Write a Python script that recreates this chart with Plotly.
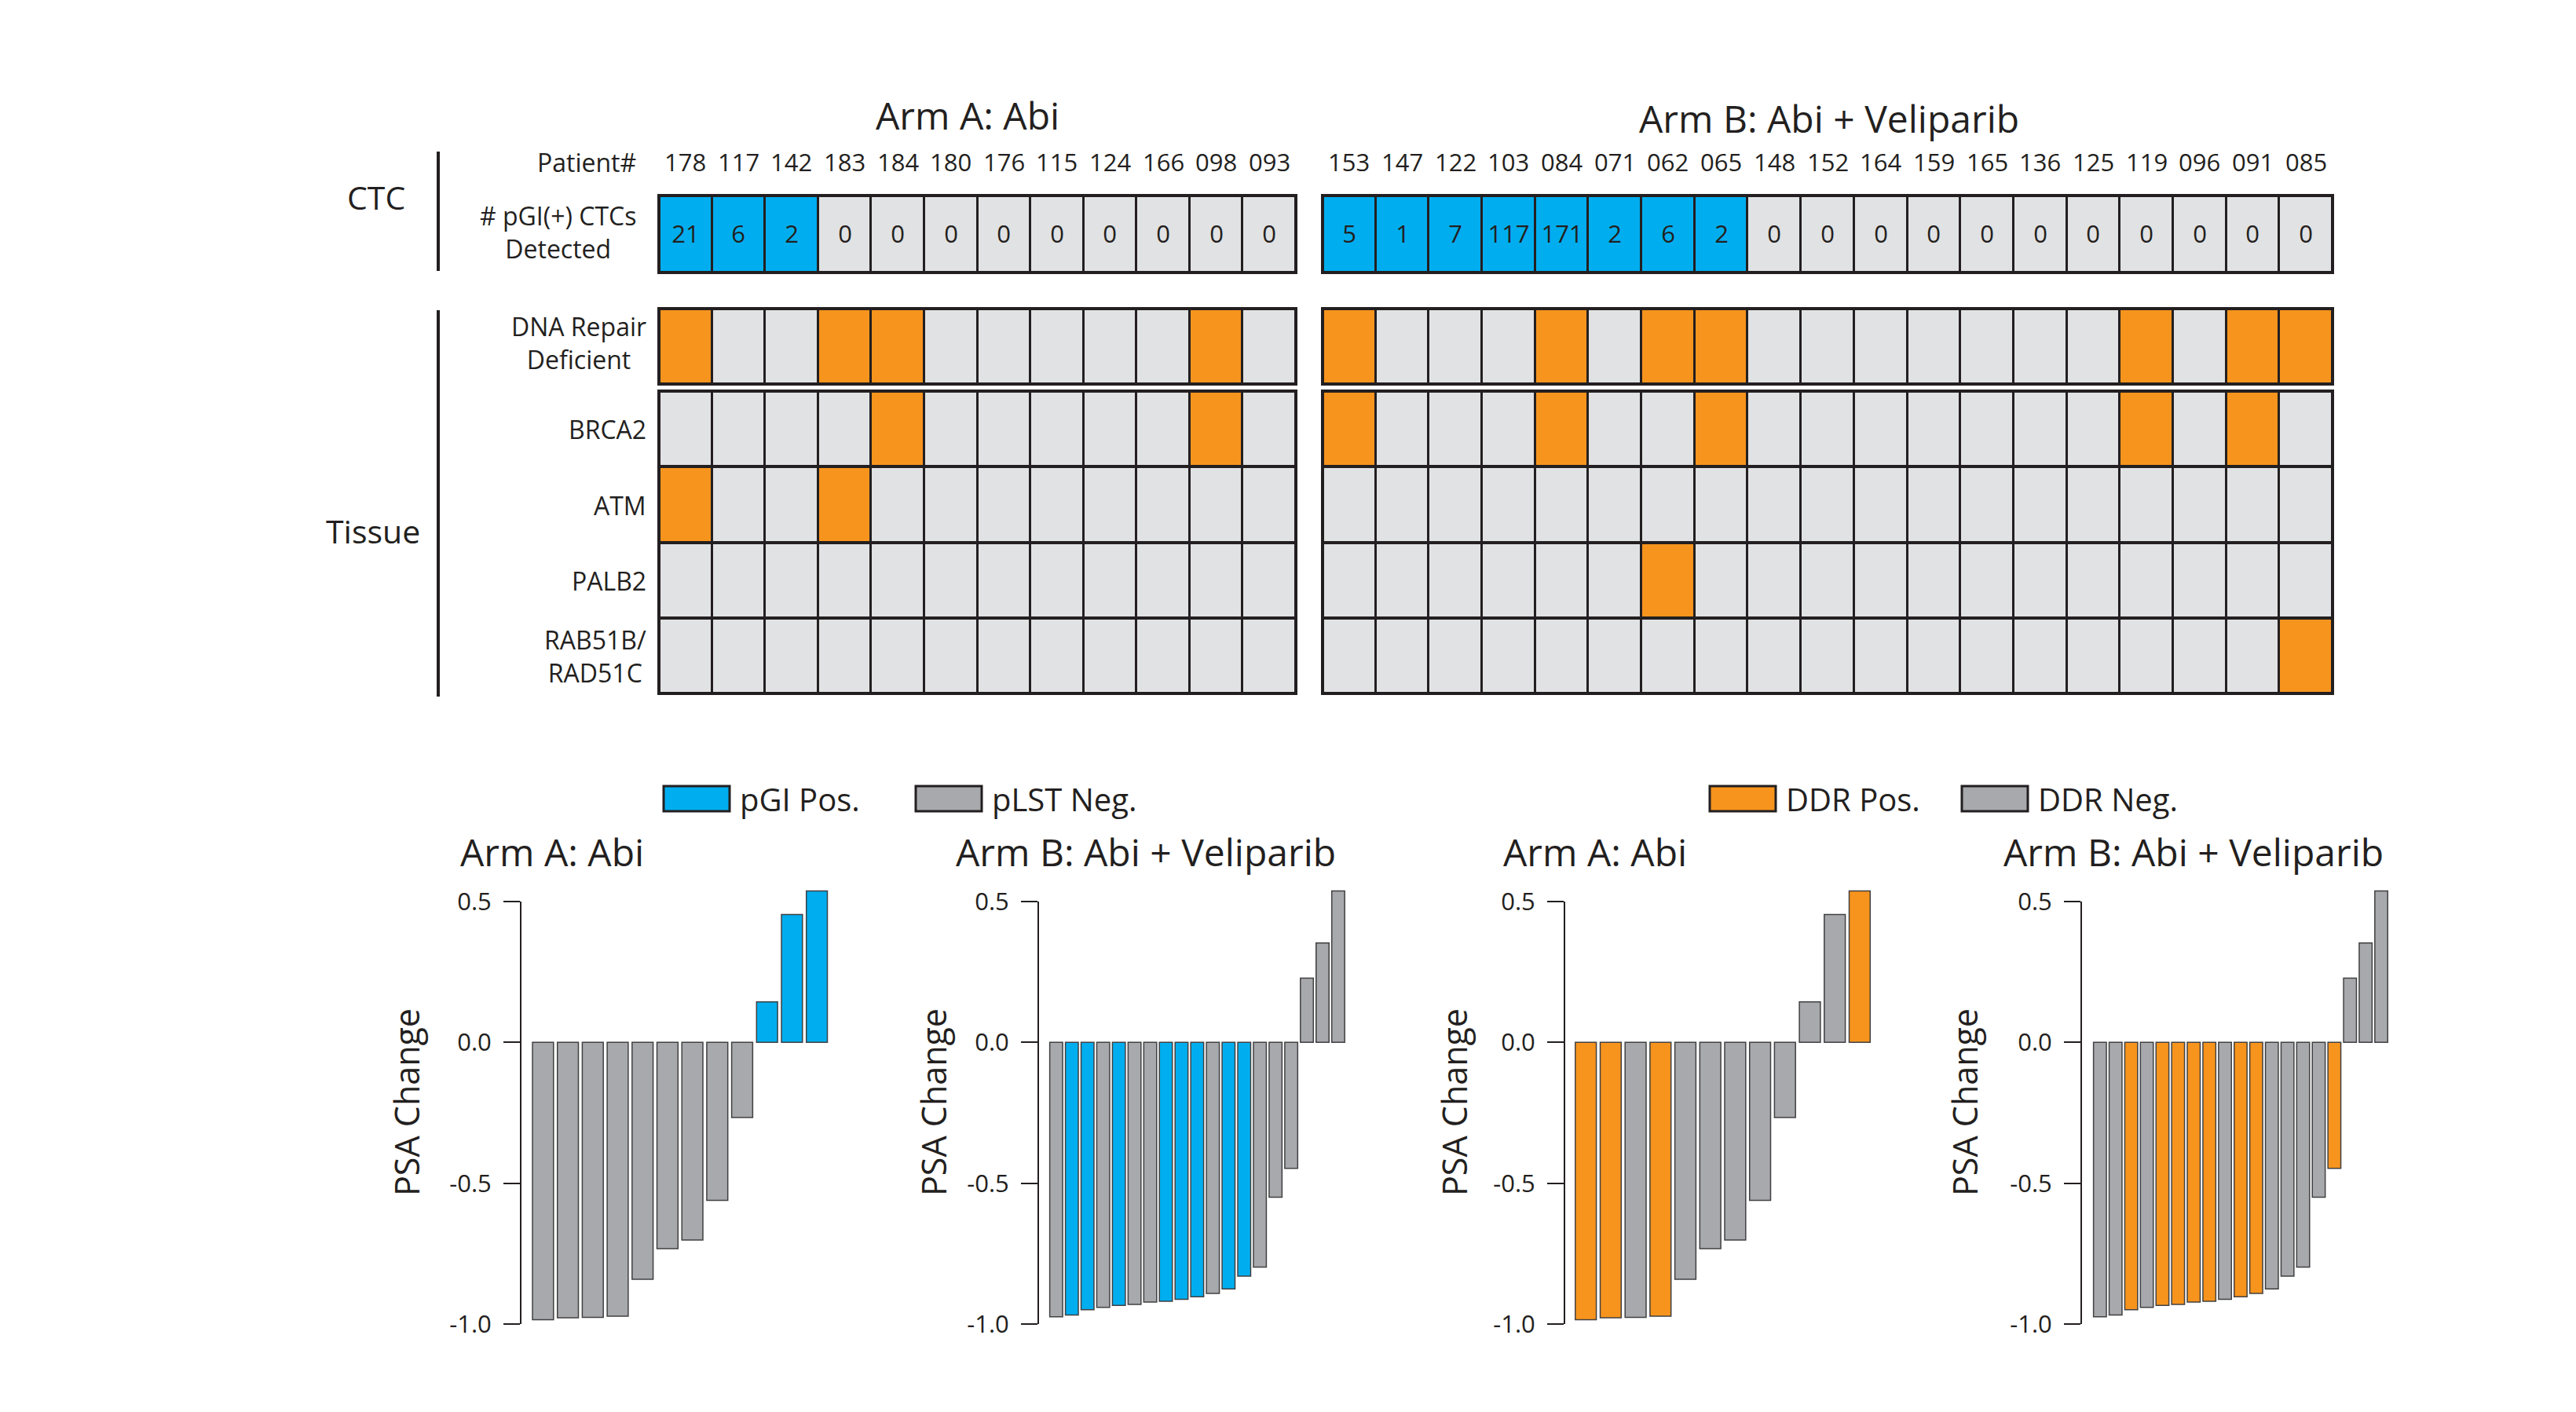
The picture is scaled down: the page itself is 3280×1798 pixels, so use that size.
import plotly.graph_objects as go

W, H = 3280, 1798
FONT = "Open Sans, Noto Sans, sans-serif"
INK = "#231F20"
GRAY_CELL = "#E1E2E3"
ORANGE = "#F7941D"
BLUE = "#00AEEF"
GRAY_BAR = "#A7A9AC"

# ---------------- data ----------------
arm_a_patients = ["178", "117", "142", "183", "184", "180", "176", "115", "124", "166", "098", "093"]
arm_b_patients = ["153", "147", "122", "103", "084", "071", "062", "065", "148", "152",
                  "164", "159", "165", "136", "125", "119", "096", "091", "085"]

arm_a_ctc = [21, 6, 2, 0, 0, 0, 0, 0, 0, 0, 0, 0]
arm_b_ctc = [5, 1, 7, 117, 171, 2, 6, 2, 0, 0, 0, 0, 0, 0, 0, 0, 0, 0, 0]

arm_a_dna_repair = [1, 0, 0, 1, 1, 0, 0, 0, 0, 0, 1, 0]
arm_b_dna_repair = [1, 0, 0, 0, 1, 0, 1, 1, 0, 0, 0, 0, 0, 0, 0, 1, 0, 1, 1]

gene_labels = ["BRCA2", "ATM", "PALB2", "RAB51B/<br>RAD51C"]
arm_a_brca2 = [0, 0, 0, 0, 1, 0, 0, 0, 0, 0, 1, 0]
arm_a_atm = [1, 0, 0, 1, 0, 0, 0, 0, 0, 0, 0, 0]
arm_a_palb2 = [0, 0, 0, 0, 0, 0, 0, 0, 0, 0, 0, 0]
arm_a_rad51 = [0, 0, 0, 0, 0, 0, 0, 0, 0, 0, 0, 0]
arm_b_brca2 = [1, 0, 0, 0, 1, 0, 0, 1, 0, 0, 0, 0, 0, 0, 0, 1, 0, 1, 0]
arm_b_atm = [0, 0, 0, 0, 0, 0, 0, 0, 0, 0, 0, 0, 0, 0, 0, 0, 0, 0, 0]
arm_b_palb2 = [0, 0, 0, 0, 0, 0, 1, 0, 0, 0, 0, 0, 0, 0, 0, 0, 0, 0, 0]
arm_b_rad51 = [0, 0, 0, 0, 0, 0, 0, 0, 0, 0, 0, 0, 0, 0, 0, 0, 0, 0, 1]

# PSA change waterfall values (sorted per arm)
psa_arm_a = [-0.985, -0.978, -0.976, -0.972, -0.841, -0.732, -0.702, -0.561, -0.267, 0.144, 0.454, 0.538]
psa_arm_b = [-0.974, -0.968, -0.949, -0.941, -0.934, -0.930, -0.922, -0.919, -0.912, -0.903,
             -0.891, -0.875, -0.830, -0.798, -0.550, -0.447, 0.228, 0.353, 0.538]
pgi_pos_arm_a = [0, 0, 0, 0, 0, 0, 0, 0, 0, 1, 1, 1]
pgi_pos_arm_b = [0, 1, 1, 0, 1, 0, 0, 1, 1, 1, 0, 1, 1, 0, 0, 0, 0, 0, 0]
ddr_pos_arm_a = [1, 1, 0, 1, 0, 0, 0, 0, 0, 0, 0, 1]
ddr_pos_arm_b = [0, 0, 1, 0, 1, 1, 1, 1, 0, 1, 1, 0, 0, 0, 0, 1, 0, 0, 0]

arm_titles = ["Arm A: Abi", "Arm B: Abi + Veliparib"]
legend_labels = ["pGI Pos.", "pLST Neg.", "DDR Pos.", "DDR Neg."]


def px_x(v):
    return v / W


def px_y(v):
    return 1 - v / H


def label(x, y, text, size, xanchor="center", **kw):
    """Paper-positioned text given in pixel coordinates."""
    return dict(x=px_x(x), y=px_y(y), xref="paper", yref="paper", text=text,
                showarrow=False, xanchor=xanchor, yanchor="middle",
                font=dict(size=size, color=INK), **kw)


# state codes: 0 = negative, 1 = DDR positive, 2 = pGI positive
cell_scale = [[0, GRAY_CELL], [0.333, GRAY_CELL], [0.334, ORANGE],
              [0.666, ORANGE], [0.667, BLUE], [1, BLUE]]

fig = go.Figure()
layout = dict(
    template="none",
    width=W, height=H, margin=dict(l=0, r=0, t=0, b=0, pad=0, autoexpand=False),
    paper_bgcolor="white", plot_bgcolor="white", showlegend=False,
    font=dict(family=FONT, color=INK),
)
shapes = []
annotations = []

# ---------------- top grids ----------------
arms = [
    dict(pat=arm_a_patients, ctc=arm_a_ctc, dna=arm_a_dna_repair,
         genes=[arm_a_brca2, arm_a_atm, arm_a_palb2, arm_a_rad51], x0=839, x1=1650),
    dict(pat=arm_b_patients, ctc=arm_b_ctc, dna=arm_b_dna_repair,
         genes=[arm_b_brca2, arm_b_atm, arm_b_palb2, arm_b_rad51], x0=1684, x1=2970),
]
blocks = [("ctc", 249, 347), ("dna", 393, 489), ("genes", 498, 883)]

ax = 0
for ai, arm in enumerate(arms):
    npat = len(arm["pat"])
    for kind, top, bottom in blocks:
        ax += 1
        xn = "x" if ax == 1 else f"x{ax}"
        yn = "y" if ax == 1 else f"y{ax}"
        if kind == "ctc":
            z = [[2 if c > 0 else 0 for c in arm["ctc"]]]
            text = [[str(c) for c in arm["ctc"]]]
            y = [0]
        elif kind == "dna":
            z = [arm["dna"]]
            text = None
            y = [0]
        else:
            z = arm["genes"]
            text = None
            y = list(range(len(z)))
        hm = go.Heatmap(
            x=arm["pat"], y=y, z=z, zmin=0, zmax=2, colorscale=cell_scale,
            showscale=False, xgap=3, ygap=4, hoverinfo="skip",
            xaxis=xn, yaxis=yn,
        )
        if text is not None:
            hm.update(text=text, texttemplate="%{text}",
                      textfont=dict(size=31, color=INK, family=FONT))
        fig.add_trace(hm)
        layout[f"xaxis{'' if ax == 1 else ax}"] = dict(
            domain=[px_x(arm["x0"]), px_x(arm["x1"])], anchor=yn, type="category",
            categoryorder="array", categoryarray=arm["pat"],
            range=[-0.5, npat - 0.5], automargin=False,
            showticklabels=False, showgrid=False, zeroline=False, showline=False, ticks="",
        )
        layout[f"yaxis{'' if ax == 1 else ax}"] = dict(
            domain=[px_y(bottom), px_y(top)], anchor=xn,
            range=[len(y) - 0.5, -0.5], automargin=False,
            showticklabels=False, showgrid=False, zeroline=False, showline=False, ticks="",
        )
        # dark backing shows through the cell gaps as grid lines
        shapes.append(dict(type="rect", xref=f"{xn} domain", yref=f"{yn} domain",
                           x0=0, x1=1, y0=0, y1=1, fillcolor=INK, line=dict(width=0),
                           layer="below"))
        shapes.append(dict(type="rect", xref=f"{xn} domain", yref=f"{yn} domain",
                           x0=0, x1=1, y0=0, y1=1, line=dict(color=INK, width=4),
                           layer="above"))
        if kind == "ctc":
            # patient numbers above each column (category index positions)
            for i, p in enumerate(arm["pat"]):
                annotations.append(dict(x=i, xref=xn, y=px_y(206), yref="paper",
                                        text=p, showarrow=False, xanchor="center",
                                        yanchor="middle",
                                        font=dict(size=31, color=INK)))

# arm titles over the grids
annotations.append(label(1232, 146, arm_titles[0], 48))
annotations.append(label(2329, 150, arm_titles[1], 48))

# row labels
annotations.append(label(812, 206, "Patient#", 32, xanchor="right"))
row_labels = [("# pGI(+) CTCs<br>Detected", 812, 295),
              ("DNA Repair<br>Deficient", 825, 437)]
row_labels += [(g, 825, yy) for g, yy in zip(gene_labels, [546, 643, 739, 835])]
for txt, xx, yy in row_labels:
    annotations.append(label(xx, yy, txt, 32, xanchor="right", align="center"))

annotations.append(label(479, 251, "CTC", 41))
annotations.append(label(475, 676, "Tissue", 41))
for y0, y1 in [(193, 345), (395, 887)]:
    shapes.append(dict(type="line", xref="paper", yref="paper",
                       x0=px_x(558), x1=px_x(558), y0=px_y(y0), y1=px_y(y1),
                       line=dict(color=INK, width=4)))

# ---------------- waterfall bar charts ----------------
charts = [
    dict(vals=psa_arm_a, flags=pgi_pos_arm_a, pos=BLUE, axis=663, first=691.4, pitch=31.7,
         gap=0.155, title=arm_titles[0], tx=584, tanchor="left", ylab=517),
    dict(vals=psa_arm_b, flags=pgi_pos_arm_b, pos=BLUE, axis=1322, first=1344.85, pitch=19.95,
         gap=0.175, title=arm_titles[1], tx=1459, tanchor="center", ylab=1188),
    dict(vals=psa_arm_a, flags=ddr_pos_arm_a, pos=ORANGE, axis=1992, first=2019.2, pitch=31.7,
         gap=0.155, title=arm_titles[0], tx=1912, tanchor="left", ylab=1851),
    dict(vals=psa_arm_b, flags=ddr_pos_arm_b, pos=ORANGE, axis=2650, first=2673.85, pitch=19.9,
         gap=0.175, title=arm_titles[1], tx=2793, tanchor="center", ylab=2501),
]
y_top_px, y_bot_px = 1126.5, 1686
for ch in charts:
    ax += 1
    xn, yn = f"x{ax}", f"y{ax}"
    n = len(ch["vals"])
    lo = -(ch["first"] - ch["axis"]) / ch["pitch"]
    hi = n - 1 + 0.7
    right = ch["axis"] + (hi - lo) * ch["pitch"]
    colors = [ch["pos"] if f else GRAY_BAR for f in ch["flags"]]
    fig.add_trace(go.Bar(
        x=list(range(n)), y=ch["vals"], marker=dict(color=colors,
                                                    line=dict(color="#414042", width=1.5)),
        width=1 - ch["gap"], xaxis=xn, yaxis=yn, hoverinfo="skip",
    ))
    layout[f"xaxis{ax}"] = dict(domain=[px_x(ch["axis"]), px_x(right)], anchor=yn,
                                range=[lo, hi], showticklabels=False, showgrid=False,
                                automargin=False,
                                zeroline=False, showline=False, ticks="")
    layout[f"yaxis{ax}"] = dict(domain=[px_y(y_bot_px), px_y(y_top_px)], anchor=xn,
                                range=[-1.0, 0.56], tickvals=[-1.0, -0.5, 0.0, 0.5],
                                ticktext=["-1.0", "-0.5", "0.0", "0.5"], automargin=False,
                                ticks="outside", ticklen=21, tickwidth=2, tickcolor=INK,
                                ticklabelstandoff=9, tickfont=dict(size=31, color=INK),
                                showgrid=False, zeroline=False, showline=False)
    shapes.append(dict(type="line", xref=f"{xn} domain", yref=yn, x0=0, x1=0,
                       y0=-1.0, y1=0.5, line=dict(color=INK, width=2)))
    annotations.append(label(ch["tx"], 1084, ch["title"], 48, xanchor=ch["tanchor"]))
    annotations.append(label(ch["ylab"], 1404, "PSA Change", 43, textangle=-90))

# legend swatches
swatches = [(845, BLUE), (1166, GRAY_BAR), (2177, ORANGE), (2498, GRAY_BAR)]
for (sx, col), lab in zip(swatches, legend_labels):
    shapes.append(dict(type="rect", xref="paper", yref="paper",
                       x0=px_x(sx), x1=px_x(sx + 84), y0=px_y(1033), y1=px_y(1001),
                       fillcolor=col, line=dict(color=INK, width=3)))
    annotations.append(label(sx + 95, 1017, lab, 40, xanchor="left"))

layout["shapes"] = shapes
layout["annotations"] = annotations
fig.update_layout(**layout)
fig.write_html("out.html")
